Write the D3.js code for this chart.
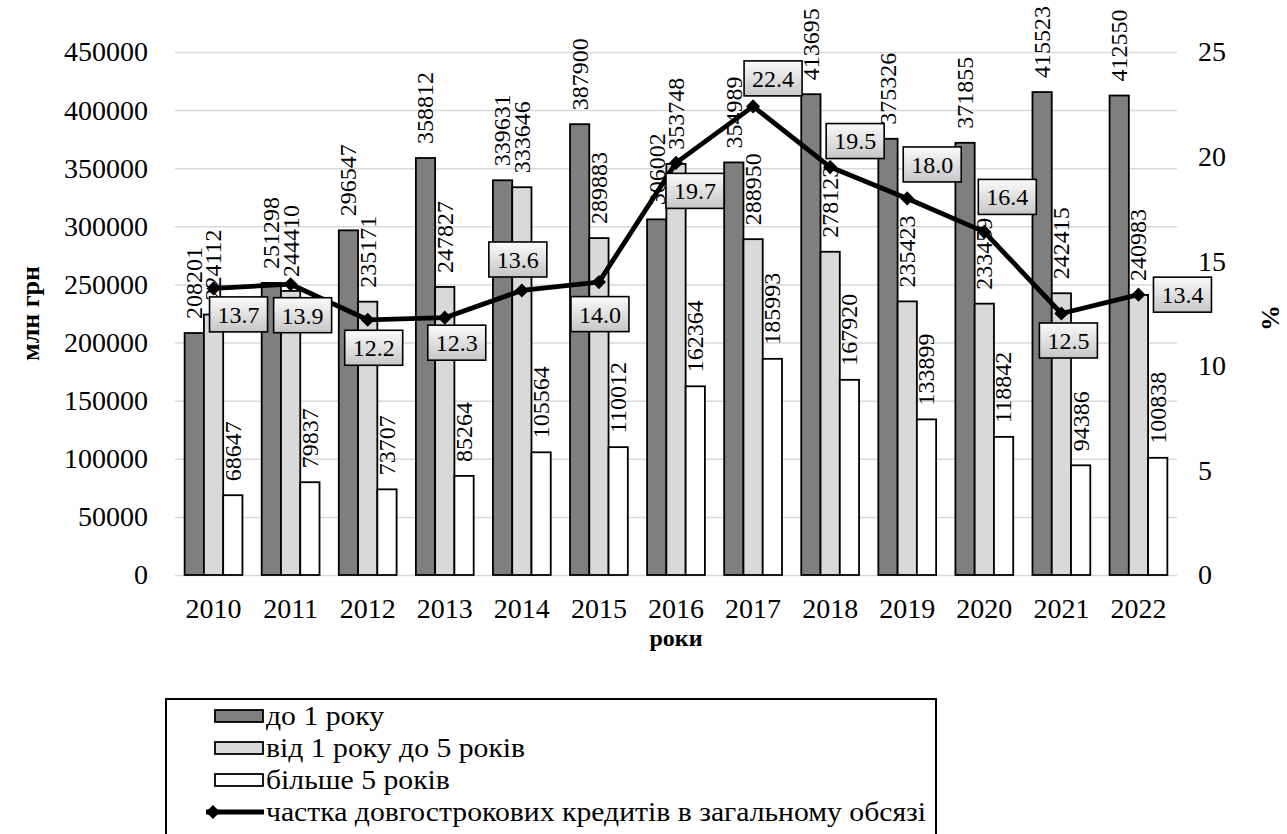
<!DOCTYPE html>
<html>
<head>
<meta charset="utf-8">
<script src="https://cdn.jsdelivr.net/npm/d3@7"></script>
<style>
  html, body { margin: 0; padding: 0; background: #fff; }
  svg { display: block; }
  text { font-family: "Liberation Serif", "Times New Roman", serif; fill: #000; }
</style>
</head>
<body>
<svg id="chart" width="1287" height="834"></svg>
<script>
// ---- data ----
const years = ["2010","2011","2012","2013","2014","2015","2016","2017","2018","2019","2020","2021","2022"];
const upTo1Year = [208201, 251298, 296547, 358812, 339631, 387900, 306002, 354989, 413695, 375326, 371855, 415523, 412550];
const from1To5Years = [224112, 244410, 235171, 247827, 333646, 289883, 353748, 288950, 278123, 235423, 233459, 242415, 240983];
const over5Years = [68647, 79837, 73707, 85264, 105564, 110012, 162364, 185993, 167920, 133899, 118842, 94386, 100838];
const longTermShare = [13.7, 13.9, 12.2, 12.3, 13.6, 14.0, 19.7, 22.4, 19.5, 18.0, 16.4, 12.5, 13.4];
const leftTicks = [0, 50000, 100000, 150000, 200000, 250000, 300000, 350000, 400000, 450000];
const rightTicks = [0, 5, 10, 15, 20, 25];

const seriesNames = ["до 1 року", "від 1 року до 5 років", "більше 5 років"];
const lineName = "частка довгострокових кредитів в загальному обсязі";

// ---- layout ----
const plot = { left: 175, right: 1177, top: 52, bottom: 575 };
const barFills = ["#7f7f7f", "#d9d9d9", "#ffffff"];
// where each percentage box sits relative to its marker (px)
const shareLabelShift = [
  [25, 26], [12, 31], [6, 28], [12, 25], [-4, -31], [1, 32], [19, 28],
  [20, -28], [25, -26], [25, -34], [23, -35], [7, 27], [44, 0]
];

const svg = d3.select("#chart");
const serif = "'Liberation Serif', 'Times New Roman', serif";

const defs = svg.append("defs");
const grad = defs.append("linearGradient")
  .attr("id", "boxFill").attr("x1", 0).attr("y1", 0).attr("x2", 0).attr("y2", 1);
grad.append("stop").attr("offset", "0%").attr("stop-color", "#fbfbfb");
grad.append("stop").attr("offset", "100%").attr("stop-color", "#c6c6c6");

const x = d3.scaleBand().domain(years).range([plot.left, plot.right]).paddingInner(0).paddingOuter(0);
const xs = d3.scaleBand().domain([0, 1, 2]).range([0, x.bandwidth()]).paddingInner(0).paddingOuter(0.5);
const yL = d3.scaleLinear().domain([0, 450000]).range([plot.bottom, plot.top]);
const yR = d3.scaleLinear().domain([0, 25]).range([plot.bottom, plot.top]);

// gridlines
svg.append("g")
  .attr("transform", `translate(${plot.left},0)`)
  .call(d3.axisLeft(yL).tickValues(leftTicks).tickSize(-(plot.right - plot.left)).tickFormat(""))
  .call(g => g.select(".domain").remove())
  .call(g => g.selectAll("line").attr("stroke", "#d9d9d9").attr("stroke-width", 1.5));

// left axis labels
svg.append("g")
  .attr("transform", `translate(${plot.left},0)`)
  .call(d3.axisLeft(yL).tickValues(leftTicks).tickSize(0).tickPadding(27).tickFormat(d => String(d)))
  .call(g => g.select(".domain").remove())
  .call(g => g.selectAll("text").attr("font-size", 28).style("font-family", serif));

// right axis labels
svg.append("g")
  .attr("transform", `translate(${plot.right},0)`)
  .call(d3.axisRight(yR).tickValues(rightTicks).tickSize(0).tickPadding(21).tickFormat(d => String(d)))
  .call(g => g.select(".domain").remove())
  .call(g => g.selectAll("text").attr("font-size", 28).style("font-family", serif));

// bottom axis labels
svg.append("g")
  .attr("transform", `translate(0,${plot.bottom})`)
  .call(d3.axisBottom(x).tickSize(0).tickPadding(23))
  .call(g => g.select(".domain").remove())
  .call(g => g.selectAll("text").attr("font-size", 28).style("font-family", serif));

// bars
const seriesValues = [upTo1Year, from1To5Years, over5Years];
const barW = xs.bandwidth();
seriesValues.forEach((vals, si) => {
  const g = svg.append("g");
  g.selectAll("rect").data(vals).join("rect")
    .attr("x", (d, i) => x(years[i]) + xs(si))
    .attr("y", d => yL(d))
    .attr("width", barW)
    .attr("height", d => yL(0) - yL(d))
    .attr("fill", barFills[si])
    .attr("stroke", "#000")
    .attr("stroke-width", 1.8);
});

// bar value labels (rotated)
seriesValues.forEach((vals, si) => {
  svg.append("g").selectAll("text").data(vals).join("text")
    .attr("transform", (d, i) => `translate(${x(years[i]) + xs(si) + barW / 2},${yL(d) - 14}) rotate(-90)`)
    .attr("dy", "0.33em")
    .attr("text-anchor", "start")
    .attr("font-size", 24)
    .text(d => String(d));
});

// share line
const px = (d, i) => x(years[i]) + x.bandwidth() / 2;
const line = d3.line().x(px).y(d => yR(d));
svg.append("path")
  .datum(longTermShare)
  .attr("d", line)
  .attr("fill", "none")
  .attr("stroke", "#000")
  .attr("stroke-width", 4.8)
  .attr("stroke-linejoin", "round");

svg.append("g").selectAll("path").data(longTermShare).join("path")
  .attr("d", d3.symbol(d3.symbolSquare, 100)())
  .attr("transform", (d, i) => `translate(${px(d, i)},${yR(d)}) rotate(45)`)
  .attr("fill", "#000");

// share value boxes
const boxW = 58, boxH = 35;
const boxes = svg.append("g").selectAll("g").data(longTermShare).join("g")
  .attr("transform", (d, i) => `translate(${px(d, i) + shareLabelShift[i][0]},${yR(d) + shareLabelShift[i][1]})`);
boxes.append("rect")
  .attr("x", -boxW / 2).attr("y", -boxH / 2)
  .attr("width", boxW).attr("height", boxH)
  .attr("fill", "url(#boxFill)")
  .attr("stroke", "#000").attr("stroke-width", 1.6);
boxes.append("text")
  .attr("text-anchor", "middle").attr("dy", "0.35em")
  .attr("font-size", 24)
  .text(d => d.toFixed(1));

// axis titles
svg.append("text")
  .attr("transform", `translate(30,${(plot.top + plot.bottom) / 2}) rotate(-90)`)
  .attr("text-anchor", "middle").attr("dy", "0.35em")
  .attr("font-size", 26).attr("font-weight", "bold")
  .text("млн грн");
svg.append("text")
  .attr("transform", `translate(1270,318) rotate(-90)`)
  .attr("text-anchor", "middle").attr("dy", "0.35em")
  .attr("font-size", 26).attr("font-weight", "bold")
  .text("%");
svg.append("text")
  .attr("x", (plot.left + plot.right) / 2).attr("y", 646)
  .attr("text-anchor", "middle")
  .attr("font-size", 24).attr("font-weight", "bold")
  .text("роки");

// legend
const legend = svg.append("g");
legend.append("rect")
  .attr("x", 166).attr("y", 699).attr("width", 770).attr("height", 160)
  .attr("fill", "#fff").attr("stroke", "#000").attr("stroke-width", 2);
const rowY = [716, 748, 780, 812];
const legendText = (y, label) => legend.append("text")
  .attr("transform", `translate(266,${y}) scale(1.1,1)`)
  .attr("dy", "0.35em")
  .attr("font-size", 27)
  .text(label);
seriesNames.forEach((name, i) => {
  legend.append("rect")
    .attr("x", 215).attr("y", rowY[i] - 6).attr("width", 48).attr("height", 12)
    .attr("fill", barFills[i]).attr("stroke", "#000").attr("stroke-width", 1.8);
  legendText(rowY[i], name);
});
legend.append("line")
  .attr("x1", 206).attr("x2", 264).attr("y1", rowY[3]).attr("y2", rowY[3])
  .attr("stroke", "#000").attr("stroke-width", 4.8);
legend.append("path")
  .attr("d", d3.symbol(d3.symbolSquare, 100)())
  .attr("transform", `translate(213,${rowY[3]}) rotate(45)`)
  .attr("fill", "#000");
legendText(rowY[3], lineName);
</script>
</body>
</html>
